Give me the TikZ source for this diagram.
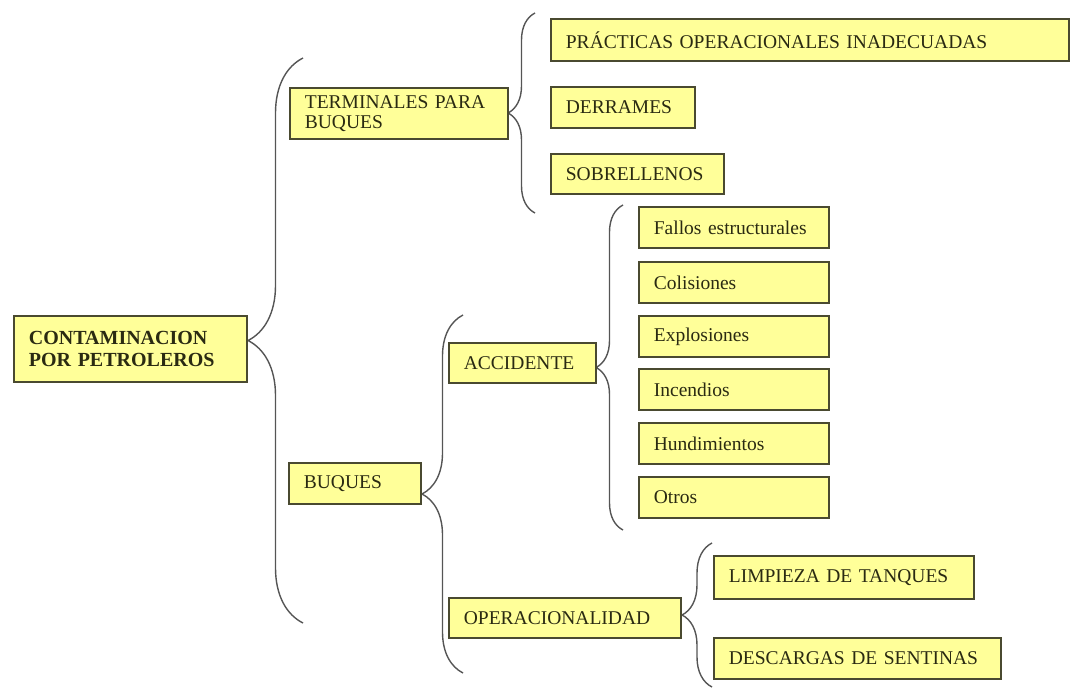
\documentclass[tikz,border=0pt]{standalone}
\usepackage{fontspec}
\setmainfont{Liberation Serif}
\usepackage{tikz}
\usetikzlibrary{decorations.pathreplacing}
\definecolor{boxfill}{HTML}{FFFF99}
\definecolor{edge}{HTML}{4A4A30}
\definecolor{ink}{HTML}{2A2A12}
\definecolor{bracecol}{HTML}{555555}
\tikzset{
  box/.style={draw=edge, fill=boxfill, line width=1.8pt, text=ink, anchor=north west,
    align=left, inner xsep=15pt, inner ysep=0pt, font=\fontsize{19.5}{20}\selectfont},
  rootbox/.style={box, font=\fontsize{20}{22}\selectfont\bfseries},
  item/.style={box, text width=160pt, minimum height=41pt},
  brc/.style={draw=bracecol, line width=1.4pt, decorate, decoration={brace, amplitude=#1}},
}

\begin{document}
\begin{tikzpicture}[x=1pt, y=-1pt]
  \useasboundingbox (0,0) rectangle (1071,691);

  % brace ends (pixel grid, y down)
  \coordinate (b1top) at (303,58);   \coordinate (b1bot) at (303,623);
  \coordinate (b2top) at (535,13);   \coordinate (b2bot) at (535,213);
  \coordinate (b3top) at (623,205);  \coordinate (b3bot) at (623,530);
  \coordinate (b4top) at (463,315);  \coordinate (b4bot) at (463,673);
  \coordinate (b5top) at (712,543);  \coordinate (b5bot) at (712,687);

  \draw[brc=55pt] (b1bot) -- (b1top);
  \draw[brc=27pt] (b2bot) -- (b2top);
  \draw[brc=27pt] (b3bot) -- (b3top);
  \draw[brc=41pt] (b4bot) -- (b4top);
  \draw[brc=30pt] (b5bot) -- (b5top);

  \node[rootbox, text width=203pt, minimum height=66pt] (root) at (13,315) {CONTAMINACION\\POR PETROLEROS};

  % terminales
  \node[box, text width=188pt, minimum height=51pt] (term) at (289,87) {TERMINALES PARA\\BUQUES};
  \node[box, text width=488pt, minimum height=42pt] (prac) at (550,18) {PRÁCTICAS OPERACIONALES INADECUADAS};
  \node[box, text width=114pt, minimum height=41pt] (derr) at (550,86) {DERRAMES};
  \node[box, text width=143pt, minimum height=40pt] (sobr) at (550,153) {SOBRELLENOS};

  % buques
  \node[box, text width=102pt, minimum height=41pt] (buq) at (288,462) {BUQUES};
  \node[box, text width=117pt, minimum height=40pt] (acc) at (448,342) {ACCIDENTE};
  \node[box, text width=202pt, minimum height=40pt] (oper) at (448,597) {OPERACIONALIDAD};

  \node[item] (fallos) at (638,206) {Fallos estructurales};
  \node[item] (colis) at (638,261) {Colisiones};
  \node[item] (explo) at (638,315) {Explosiones};
  \node[item] (incen) at (638,368) {Incendios};
  \node[item] (hundi) at (638,422) {Hundimientos};
  \node[item] (otros) at (638,476) {Otros};

  \node[box, text width=230pt, minimum height=43pt] (limp) at (713,555) {LIMPIEZA DE TANQUES};
  \node[box, text width=257pt, minimum height=41pt] (desc) at (713,637) {DESCARGAS DE SENTINAS};
\end{tikzpicture}
\end{document}
